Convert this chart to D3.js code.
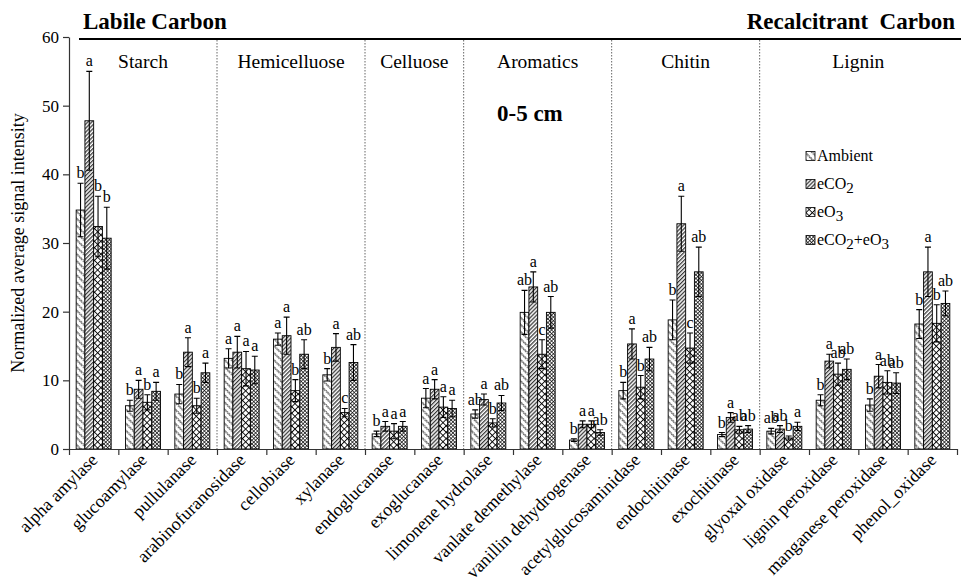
<!DOCTYPE html>
<meta charset="utf-8">
<head>
    <title>Normalized average signal intensity, 0-5 cm</title>
    <style>
        body { margin: 0; background: #fff; }
    </style>
</head>
<body>
    <script type="text/javascript" src="https://cdn.jsdelivr.net/npm/d3@7"></script>
    <svg id="chart"></svg>
    <script>
        // data
        var categories = ["alpha amylase", "glucoamylase", "pullulanase", "arabinofuranosidase", "cellobiase",
            "xylanase", "endoglucanase", "exoglucanase", "limonene hydrolase", "vanlate demethylase",
            "vanillin dehydrogenase", "acetylglucosaminidase", "endochitinase", "exochitinase",
            "glyoxal oxidase", "lignin peroxidase", "manganese peroxidase", "phenol_oxidase"];
        var groupNames = ["Starch", "Hemicelluose", "Celluose", "Aromatics", "Chitin", "Lignin"];
        var groupSizes = [3, 3, 2, 3, 3, 4];
        var series = ["Ambient", "eCO2", "eO3", "eCO2+eO3"];

        var ambient = [34.8, 6.3, 8.0, 13.2, 16.0, 10.8, 2.2, 7.4, 5.1, 19.9, 1.3, 8.5, 18.8, 2.1, 2.6, 7.1, 6.4, 18.2];
        var eco2    = [47.8, 8.7, 14.1, 14.1, 16.5, 14.8, 3.3, 8.7, 7.2, 23.6, 3.6, 15.3, 32.8, 4.6, 2.9, 12.8, 10.6, 25.8];
        var eo3     = [32.4, 6.8, 6.3, 11.7, 8.5, 5.3, 2.6, 6.1, 3.8, 13.8, 3.6, 9.0, 14.7, 2.8, 1.6, 10.9, 9.7, 18.3];
        var eco2eo3 = [30.7, 8.4, 11.1, 11.5, 13.8, 12.6, 3.3, 5.9, 6.7, 19.9, 2.4, 13.1, 25.8, 2.9, 3.3, 11.6, 9.6, 21.2];

        var ambientErr = [3.9, 0.8, 1.4, 1.4, 0.9, 0.9, 0.4, 1.4, 0.6, 3.2, 0.2, 1.2, 2.9, 0.3, 0.4, 0.8, 0.9, 2.1];
        var eco2Err    = [7.2, 1.3, 2.1, 2.3, 2.7, 2.0, 0.7, 1.4, 0.8, 2.2, 0.5, 2.2, 4.0, 0.7, 0.5, 1.0, 1.7, 3.6];
        var eo3Err     = [4.4, 1.1, 1.1, 2.5, 1.6, 0.6, 1.1, 1.5, 0.6, 2.1, 0.5, 1.7, 2.2, 0.5, 0.3, 1.6, 1.7, 2.7];
        var eco2eo3Err = [4.5, 1.3, 1.4, 2.0, 2.1, 2.6, 0.7, 1.2, 1.1, 2.3, 0.4, 1.7, 3.6, 0.5, 0.6, 1.5, 1.5, 1.8];

        var ambientSig = ["b", "b", "b", "a", "a", "b", "b", "a", "ab", "ab", "b", "b", "b", "b", "ab", "b", "b", "b"];
        var eco2Sig    = ["a", "a", "a", "a", "a", "a", "a", "a", "a", "a", "a", "a", "a", "a", "ab", "a", "a", "a"];
        var eo3Sig     = ["b", "b", "b", "a", "b", "c", "a", "a", "b", "c", "a", "b", "c", "ab", "b", "ab", "ab", "b"];
        var eco2eo3Sig = ["b", "a", "a", "a", "ab", "ab", "a", "a", "ab", "ab", "ab", "ab", "ab", "ab", "a", "ab", "ab", "ab"];

        var yTicks = [0, 10, 20, 30, 40, 50, 60];

        var values = [ambient, eco2, eo3, eco2eo3];
        var errors = [ambientErr, eco2Err, eo3Err, eco2eo3Err];
        var sigs = [ambientSig, eco2Sig, eo3Sig, eco2eo3Sig];

        var serif = "'Liberation Serif', 'DejaVu Serif', serif";

        var margin = { top: 37, right: 4, bottom: 130, left: 69 };
        var width = 961 - margin.left - margin.right;
        var height = 579 - margin.top - margin.bottom;

        var svg = d3.select("#chart")
            .attr("width", 961)
            .attr("height", 579)
            .attr("font-family", serif);

        // fill patterns, one per treatment
        var defs = svg.append("defs");
        function pattern(id, size, angle) {
            return defs.append("pattern")
                .attr("id", id)
                .attr("patternUnits", "userSpaceOnUse")
                .attr("width", size).attr("height", size)
                .attr("patternTransform", "rotate(" + angle + ")");
        }
        var p0 = pattern("pat0", 5, -45);
        p0.append("rect").attr("width", 5).attr("height", 5).attr("fill", "#fff");
        p0.append("path").attr("d", "M2.5,0 Q0.5,1.25 2.5,2.5 Q0.5,3.75 2.5,5")
            .attr("fill", "none").attr("stroke", "#000").attr("stroke-width", 0.9);
        var p1 = pattern("pat1", 2.8, 45);
        p1.append("rect").attr("width", 2.8).attr("height", 2.8).attr("fill", "#fff");
        p1.append("line").attr("x1", 0.7).attr("x2", 0.7).attr("y1", 0).attr("y2", 2.8)
            .attr("stroke", "#000").attr("stroke-width", 1);
        var p2 = pattern("pat2", 4.5, 45);
        p2.append("rect").attr("width", 4.5).attr("height", 4.5).attr("fill", "#fff");
        p2.append("path").attr("d", "M0.5,0 V4.5 M0,0.5 H4.5")
            .attr("stroke", "#000").attr("stroke-width", 0.9);
        var p3 = pattern("pat3", 2.6, 45);
        p3.append("rect").attr("width", 2.6).attr("height", 2.6).attr("fill", "#fff");
        p3.append("path").attr("d", "M0.4,0 V2.6 M0,0.4 H2.6")
            .attr("stroke", "#000").attr("stroke-width", 0.7);

        var g = svg.append("g").attr("transform", "translate(" + margin.left + "," + margin.top + ")");

        var x = d3.scaleBand().domain(categories).range([0, width]);
        var xIdx = d3.scaleLinear().domain([0, categories.length]).range([0, width]);
        var x1 = d3.scaleBand().domain(series).range([0, x.bandwidth()]).paddingOuter(0.82);
        var y = d3.scaleLinear().domain([0, 60]).range([height, 0]);

        // group dividers
        var bounds = [];
        var acc = 0;
        groupSizes.forEach(function(s) { bounds.push([acc, acc + s]); acc += s; });

        g.selectAll(".divider")
            .data(bounds.slice(1))
            .enter().append("line")
            .attr("class", "divider")
            .attr("x1", function(d) { return xIdx(d[0]); })
            .attr("x2", function(d) { return xIdx(d[0]); })
            .attr("y1", 3).attr("y2", height)
            .attr("stroke", "#666").attr("stroke-width", 1)
            .attr("stroke-dasharray", "1.5,1.5");

        g.selectAll(".group-label")
            .data(bounds)
            .enter().append("text")
            .attr("class", "group-label")
            .attr("x", function(d) { return (xIdx(d[0]) + xIdx(d[1])) / 2; })
            .attr("y", 31)
            .attr("text-anchor", "middle")
            .attr("font-size", 19.5)
            .text(function(d, i) { return groupNames[i]; });

        // bars
        var cat = g.selectAll(".cat")
            .data(categories)
            .enter().append("g")
            .attr("class", "cat")
            .attr("transform", function(d) { return "translate(" + x(d) + ",0)"; });

        var rows = cat.selectAll(".bar")
            .data(function(d, i) {
                return series.map(function(s, j) {
                    return { s: s, j: j, v: values[j][i], e: errors[j][i], sig: sigs[j][i] };
                });
            })
            .enter().append("g");

        rows.append("rect")
            .attr("x", function(d) { return x1(d.s); })
            .attr("width", x1.bandwidth())
            .attr("y", function(d) { return y(d.v); })
            .attr("height", function(d) { return height - y(d.v); })
            .attr("fill", function(d) { return "url(#pat" + d.j + ")"; })
            .attr("stroke", "#000").attr("stroke-width", 0.9);

        // error bars
        var cap = 3;
        rows.append("path")
            .attr("d", function(d) {
                var cx = x1(d.s) + x1.bandwidth() / 2;
                var t = y(d.v + d.e), b = y(Math.max(0, d.v - d.e));
                return "M" + cx + "," + t + "V" + b +
                    "M" + (cx - cap) + "," + t + "H" + (cx + cap) +
                    "M" + (cx - cap) + "," + b + "H" + (cx + cap);
            })
            .attr("fill", "none").attr("stroke", "#000").attr("stroke-width", 1.1);

        rows.append("text")
            .attr("x", function(d) { return x1(d.s) + x1.bandwidth() / 2; })
            .attr("y", function(d) { return y(d.v + d.e) - 5; })
            .attr("text-anchor", "middle")
            .attr("font-size", 16)
            .text(function(d) { return d.sig; });

        // axes
        var yAxis = g.append("g")
            .call(d3.axisLeft(y).tickValues(yTicks).tickSize(6).tickSizeOuter(0).tickPadding(4))
            .attr("font-family", serif);
        yAxis.selectAll("text").attr("font-size", 17).attr("fill", "#000");
        yAxis.selectAll("line, path").attr("stroke", "#333").attr("stroke-width", 1.2);

        var xAxis = g.append("g")
            .attr("transform", "translate(0," + height + ")")
            .call(d3.axisBottom(xIdx).tickValues(d3.range(categories.length + 1)).tickFormat("").tickSize(6).tickSizeOuter(0));
        xAxis.selectAll("line, path").attr("stroke", "#333").attr("stroke-width", 1.2);

        g.selectAll(".xlabel")
            .data(categories)
            .enter().append("text")
            .attr("class", "xlabel")
            .attr("transform", function(d) {
                return "translate(" + (x(d) + x.bandwidth() / 2 + 5) + "," + (height + 12) + ") rotate(-45)";
            })
            .attr("text-anchor", "end")
            .attr("font-size", 18)
            .text(function(d) { return d; });

        // y label
        svg.append("text")
            .attr("transform", "translate(24," + (margin.top + height / 2) + ") rotate(-90)")
            .attr("text-anchor", "middle")
            .attr("font-size", 18)
            .text("Normalized average signal intensity");

        // headings
        svg.append("line")
            .attr("x1", 79).attr("x2", 961)
            .attr("y1", 39).attr("y2", 39)
            .attr("stroke", "#000").attr("stroke-width", 2);
        svg.append("text")
            .attr("x", 83).attr("y", 29)
            .attr("font-size", 23).attr("font-weight", "bold")
            .text("Labile Carbon");
        svg.append("text")
            .attr("x", 955).attr("y", 29)
            .attr("text-anchor", "end")
            .attr("font-size", 23).attr("font-weight", "bold")
            .style("white-space", "pre")
            .text("Recalcitrant  Carbon");
        svg.append("text")
            .attr("x", 497).attr("y", 121)
            .attr("font-size", 23).attr("font-weight", "bold")
            .text("0-5 cm");

        // legend
        var legend = svg.append("g").attr("transform", "translate(806,156)");
        var item = legend.selectAll(".item")
            .data(series)
            .enter().append("g")
            .attr("transform", function(d, i) { return "translate(0," + (i * 28) + ")"; });
        item.append("rect")
            .attr("x", 0).attr("y", -4.5)
            .attr("width", 9).attr("height", 9)
            .attr("fill", function(d, i) { return "url(#pat" + i + ")"; })
            .attr("stroke", "#000").attr("stroke-width", 0.8);
        var lt = item.append("text")
            .attr("x", 11).attr("y", 5)
            .attr("font-size", 16);
        lt.each(function(d) {
            var t = d3.select(this);
            // subscripts for CO2 / O3
            var parts = d.split(/(\d)/);
            parts.forEach(function(p) {
                if (p === "") return;
                if (/\d/.test(p)) {
                    t.append("tspan").attr("baseline-shift", "-25%").attr("font-size", 15).text(p);
                } else {
                    t.append("tspan").text(p);
                }
            });
        });
    </script>
</body>
</html>
